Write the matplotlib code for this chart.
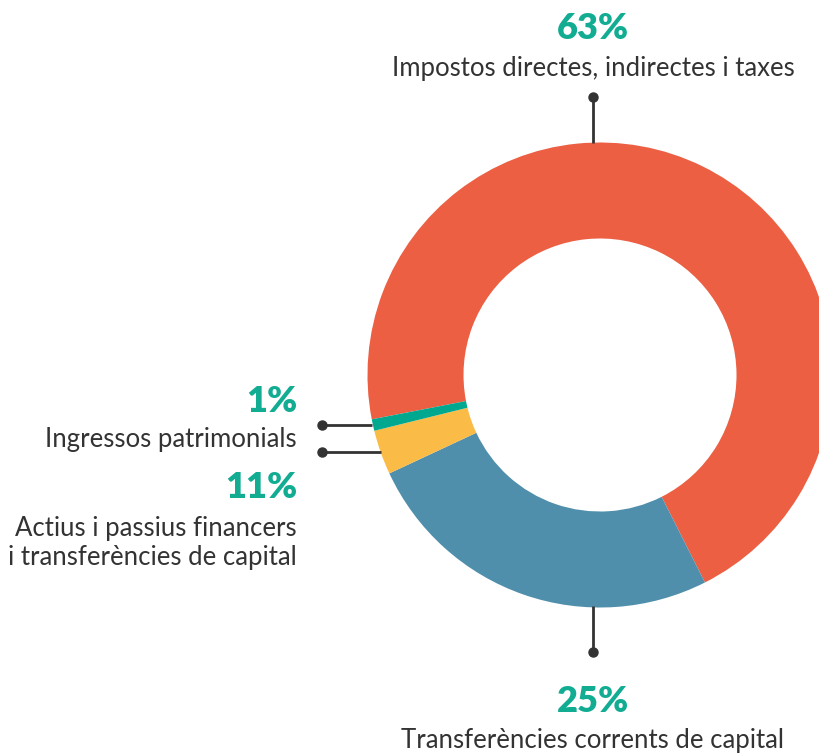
import matplotlib
matplotlib.use("Agg")
import matplotlib.pyplot as plt

# ---- data ----
categories = ["Impostos directes, indirectes i taxes",
              "Transferències corrents de capital",
              "Actius i passius financers\ni transferències de capital",
              "Ingressos patrimonials"]
slice_values = [70.6, 25.5, 3.1, 0.8]          # drawn wedge sizes
pct_labels = ["63%", "25%", "11%", "1%"]       # printed labels
colors = ["#EC5F43", "#4F8FAB", "#FBBB47", "#00A88F"]

W, H = 820, 754
GREEN = "#12AC93"
DARK = "#333333"
FONT = "Lato"

fig = plt.figure(figsize=(W / 100, H / 100), dpi=100)
ax = fig.add_axes([0, 0, 1, 1])

def Y(y):  # pixel y (top-down) -> data y
    return H - y

cx, cy = 600, Y(375)
R, width = 232.5, 96

ax.pie(slice_values, colors=colors, startangle=90 - 259.0, counterclock=False,
       center=(cx, cy), radius=R, wedgeprops=dict(width=width, linewidth=0))
ax.set_xlim(0, W)
ax.set_ylim(0, H)
ax.set_aspect("auto")
ax.axis("off")

# leader lines
def leader(x0, y0, x1, y1):
    ax.plot([x0, x1], [Y(y0), Y(y1)], color=DARK, lw=2, solid_capstyle="butt", zorder=5)
    ax.plot([x0], [Y(y0)], "o", color=DARK, ms=6.5, zorder=6)

leader(593, 97, 593, 143)
leader(593, 652, 593, 606)
leader(322, 425, 372, 425)
leader(322, 452, 381, 452)

pct_kw = dict(color=GREEN, fontsize=26, fontweight="heavy", family=FONT, va="baseline")
lab_kw = dict(color=DARK, fontsize=18.5, family=FONT, va="baseline")

# top
ax.text(593, Y(39), pct_labels[0], ha="center", **pct_kw)
ax.text(593, Y(76), categories[0], ha="center", **lab_kw)
# bottom
ax.text(593, Y(712), pct_labels[1], ha="center", **pct_kw)
ax.text(593, Y(748), categories[1], ha="center", **lab_kw)
# left
ax.text(297, Y(412), pct_labels[3], ha="right", **pct_kw)
ax.text(297, Y(447), categories[3], ha="right", **lab_kw)
ax.text(297, Y(498), pct_labels[2], ha="right", **pct_kw)
l1, l2 = categories[2].split("\n")
ax.text(297, Y(536), l1, ha="right", **lab_kw)
ax.text(297, Y(565), l2, ha="right", **lab_kw)

fig.savefig("out.png", dpi=100, facecolor="white")
